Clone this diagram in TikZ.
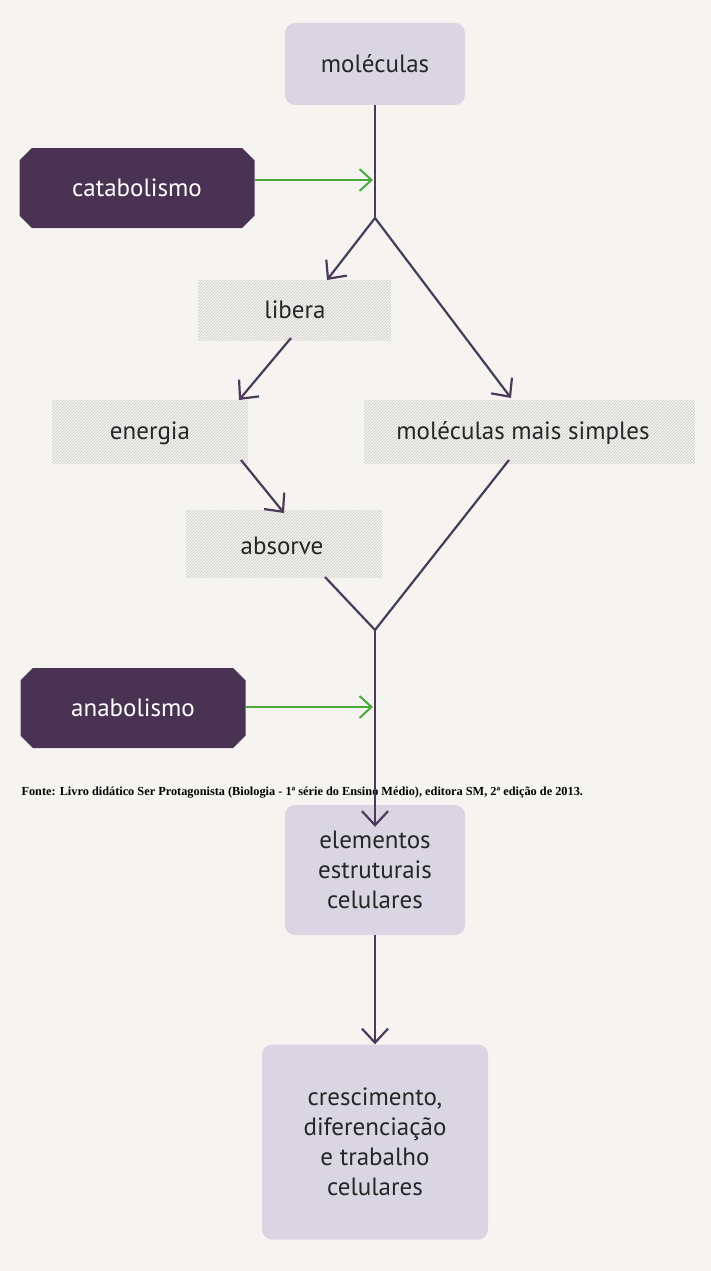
\documentclass[tikz,border=0pt]{standalone}
\usepackage{fontspec}
\setmainfont{PT Sans}
\newfontfamily\srcfont{Liberation Serif}
\usetikzlibrary{positioning,arrows.meta,patterns,shapes.misc}
\definecolor{paper}{HTML}{F6F4F0}
\definecolor{lila}{HTML}{DAD5E2}
\definecolor{roxo}{HTML}{4A3352}
\definecolor{traco}{HTML}{4B3A5A}
\definecolor{verde}{HTML}{4CA83C}

\begin{document}
\begin{tikzpicture}[x=1pt,y=-1pt,
  box/.style={draw=none,fill=lila,rounded corners=10pt,align=center,font=\fontsize{25}{30}\selectfont,text=black!85},
  oct/.style={chamfered rectangle,chamfered rectangle xsep=14pt,fill=roxo,text=white,minimum width=235pt,minimum height=80pt,font=\fontsize{25}{30}\selectfont,inner sep=0pt},
  hatch/.style={pattern=north east lines,pattern color=black!22},
  lab/.style={font=\fontsize{25}{30}\selectfont,text=black!85},
  flow/.style={draw=traco,line width=2.2pt,-{Straight Barb[length=14pt,width=26pt,line width=2.2pt]}},
  side/.style={draw=verde,line width=2pt,-{Straight Barb[length=12pt,width=22pt,line width=2pt]}}]
\useasboundingbox[fill=paper] (0,0) rectangle (711,1271);
% hatched backgrounds
\fill[hatch] (198,280) rectangle (391,340);
\fill[hatch] (52,400) rectangle (248,463);
\fill[hatch] (364,400) rectangle (695,463);
\fill[hatch] (186,510) rectangle (382,577);
% nodes
\node[box,minimum width=180pt,minimum height=82pt] (mol) at (375,64) {moléculas};
\node[oct] (cat) at (137,188) {catabolismo};
\node[oct,minimum width=225pt] (ana) at (133,708) {anabolismo};
\node[lab] (lib) at (295,310) {libera};
\node[lab] (ene) at (150,433) {energia};
\node[lab] (mms) at (523,433) {moléculas mais simples};
\node[lab] (abs) at (282,546) {absorve};
\node[box,minimum width=180pt,minimum height=130pt] (ele) at (375,870) {elementos\\estruturais\\celulares};
\node[box,minimum width=226pt,minimum height=195pt] (cre) at (375,1142) {crescimento,\\diferenciação\\e trabalho\\celulares};
\node[anchor=west,font=\srcfont\bfseries\fontsize{12.3}{14}\selectfont] (src) at (18,793)
  {Fonte: Livro didático Ser Protagonista (Biologia - 1ª série do Ensino Médio), editora SM, 2ª edição de 2013.};
% junctions
\coordinate (split) at (375,218);
\coordinate (merge) at (375,630);
\coordinate (catin) at (373,180);
\coordinate (anain) at (373,707);
% connectors
\draw[draw=traco,line width=2.2pt] (mol.south) -- (split);
\draw[flow] (split) -- (327,280);
\draw[flow] (split) -- (511,398);
\draw[flow] (291,338) -- (239,400);
\draw[flow] (241,460) -- (284,513);
\draw[draw=traco,line width=2.2pt] (325,577) -- (merge) -- (509,460);
\draw[flow] (merge) -- ([yshift=-22pt]ele.north);
\draw[flow] (ele.south) -- (cre.north);
\draw[side] (cat.east |- catin) -- (catin);
\draw[side] (ana.east |- anain) -- (anain);
\end{tikzpicture}
\end{document}
